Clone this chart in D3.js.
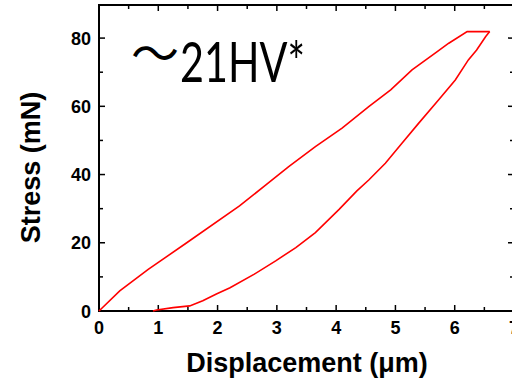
<!DOCTYPE html>
<html>
<head>
<meta charset="utf-8">
<script src="https://cdn.jsdelivr.net/npm/d3@7"></script>
<style>
  body { margin: 0; background: #fff; }
  svg { display: block; }
</style>
</head>
<body>
<svg id="chart" width="512" height="382"></svg>
<script>
// loading branch (displacement um, stress mN)
var loadX = [0, 0.35, 0.83, 1.48, 2.37, 2.81, 3.20, 3.65, 4.10, 4.55, 4.92, 5.28, 5.67, 5.90, 6.21, 6.59];
var loadY = [0, 5.9, 12.2, 20.0, 30.8, 36.9, 42.3, 48.2, 53.6, 59.9, 64.8, 70.7, 75.6, 78.5, 81.9, 81.9];
// unloading branch
var unloadX = [6.59, 6.52, 6.37, 6.23, 6.01, 5.73, 5.39, 5.11, 4.83, 4.55, 4.35, 4.05, 3.65, 3.32, 2.98, 2.62, 2.21, 1.98, 1.75, 1.53, 1.25, 0.97, 0.91];
var unloadY = [81.9, 80.4, 76.5, 73.6, 67.7, 61.9, 55.0, 49.2, 43.3, 38.4, 35.2, 29.8, 23.0, 18.6, 14.7, 10.8, 6.8, 5.0, 3.0, 1.5, 1.0, 0.3, 0];

var xTicks = [0, 1, 2, 3, 4, 5, 6, 7];
var yTicks = [0, 20, 40, 60, 80];
var xMinor = [0.5, 1.5, 2.5, 3.5, 4.5, 5.5, 6.5];
var yMinor = [10, 30, 50, 70];

var svg = d3.select("#chart");

var margin = { top: 5, left: 99 };
var plotWidth = 415;
var plotHeight = 306;

var x = d3.scaleLinear().domain([0, 7]).range([0, plotWidth]);
var y = d3.scaleLinear().domain([0, 89.7]).range([plotHeight, 0]);

var plot = svg.append("g")
  .attr("transform", "translate(" + margin.left + "," + margin.top + ")");

// frame
plot.append("rect")
  .attr("x", 0).attr("y", 0)
  .attr("width", plotWidth).attr("height", plotHeight)
  .attr("fill", "none")
  .attr("stroke", "#000")
  .attr("stroke-width", 2);

// inward ticks on all four sides
function ticks(vals, len) {
  plot.selectAll(null).data(vals).enter().append("line")
    .attr("x1", d => x(d)).attr("x2", d => x(d))
    .attr("y1", plotHeight).attr("y2", plotHeight - len)
    .attr("stroke", "#000").attr("stroke-width", 1.5);
  plot.selectAll(null).data(vals).enter().append("line")
    .attr("x1", d => x(d)).attr("x2", d => x(d))
    .attr("y1", 0).attr("y2", len)
    .attr("stroke", "#000").attr("stroke-width", 1.5);
}
function yticks(vals, len) {
  plot.selectAll(null).data(vals).enter().append("line")
    .attr("y1", d => y(d)).attr("y2", d => y(d))
    .attr("x1", 0).attr("x2", len)
    .attr("stroke", "#000").attr("stroke-width", 1.5);
  plot.selectAll(null).data(vals).enter().append("line")
    .attr("y1", d => y(d)).attr("y2", d => y(d))
    .attr("x1", plotWidth).attr("x2", plotWidth - len)
    .attr("stroke", "#000").attr("stroke-width", 1.5);
}
ticks(xTicks, 6);
ticks(xMinor, 4);
yticks(yTicks, 6);
yticks(yMinor, 4);

// tick labels
plot.selectAll(".xlab").data(xTicks).enter().append("text")
  .attr("class", "xlab")
  .attr("x", d => x(d))
  .attr("y", plotHeight + 23)
  .attr("text-anchor", "middle")
  .style("font-family", "Liberation Sans, Arial, sans-serif")
  .style("font-weight", "bold")
  .style("font-size", "18px")
  .text(d => d);

plot.selectAll(".ylab").data(yTicks).enter().append("text")
  .attr("class", "ylab")
  .attr("x", -8)
  .attr("y", d => y(d) + 6.5)
  .attr("text-anchor", "end")
  .style("font-family", "Liberation Sans, Arial, sans-serif")
  .style("font-weight", "bold")
  .style("font-size", "18px")
  .text(d => d);

// curves
var line = d3.line().x(d => x(d[0])).y(d => y(d[1]));
var loadPts = loadX.map((v, i) => [v, loadY[i]]);
var unloadPts = unloadX.map((v, i) => [v, unloadY[i]]);

plot.append("path")
  .attr("d", line(loadPts))
  .attr("fill", "none")
  .attr("stroke", "#ff0000")
  .attr("stroke-width", 1.6);

plot.append("path")
  .attr("d", line(unloadPts))
  .attr("fill", "none")
  .attr("stroke", "#ff0000")
  .attr("stroke-width", 1.6);

// annotation
svg.append("text")
  .attr("x", 131)
  .attr("y", 71)
  .style("font-family", "Noto Sans CJK JP, sans-serif")
  .style("font-size", "48px")
  .text("～");

svg.append("text")
  .attr("x", 180)
  .attr("y", 81.5)
  .attr("textLength", 125)
  .attr("lengthAdjust", "spacingAndGlyphs")
  .style("font-family", "Lato, sans-serif")
  .style("font-size", "56px")
  .text("21HV*");

// axis titles
svg.append("text")
  .attr("x", 307)
  .attr("y", 372)
  .attr("text-anchor", "middle")
  .style("font-family", "Liberation Sans, Arial, sans-serif")
  .style("font-weight", "bold")
  .style("font-size", "27px")
  .text("Displacement (μm)");

svg.append("text")
  .attr("transform", "translate(40,167.5) rotate(-90)")
  .attr("text-anchor", "middle")
  .style("font-family", "Liberation Sans, Arial, sans-serif")
  .style("font-weight", "bold")
  .style("font-size", "27px")
  .text("Stress (mN)");
</script>
</body>
</html>
